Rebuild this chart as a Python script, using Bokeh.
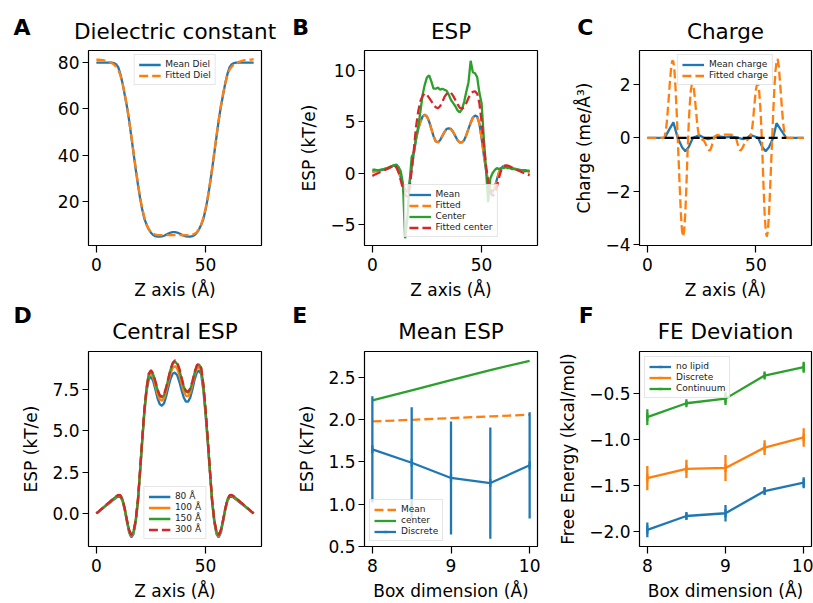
from bokeh.plotting import figure
from bokeh.models import Range1d, FixedTicker, Legend, LegendItem
from bokeh.layouts import row, column
from bokeh.embed import file_html
from bokeh.resources import INLINE
from bokeh.core.properties import value

# ---------------- data ----------------
z_axis = list(range(73))

diel_mean = [80, 80, 80, 80, 80, 80, 80, 80, 79.8, 79.3,
             78.0, 75.0, 71.0, 66.0, 61.0, 55.0, 48.0, 41.0, 34.0, 27.5,
             21.5, 16.5, 12.5, 10.0, 8.0, 6.5, 5.5, 5.0, 4.8, 4.8,
             4.9, 5.2, 5.7, 6.2, 6.6, 6.8, 6.8, 6.6, 6.2, 5.7,
             5.2, 4.9, 4.8, 4.8, 5.0, 5.5, 6.5, 8.0, 10.0, 12.5,
             16.5, 21.5, 27.5, 34.0, 41.0, 48.0, 55.0, 61.0, 66.0, 71.0,
             75.0, 78.0, 79.3, 79.8, 80, 80, 80, 80, 80, 80,
             80, 80, 80]
diel_fit = [81.2, 81.2, 81.1, 81.0, 80.8, 80.5, 80.2, 79.8, 79.2, 78.3,
            77.0, 74.5, 71.0, 66.5, 61.0, 55.0, 48.5, 41.5, 34.5, 28.0,
            22.0, 17.0, 13.0, 10.0, 8.0, 6.8, 6.1, 5.7, 5.5, 5.5,
            5.5, 5.5, 5.5, 5.5, 5.5, 5.5, 5.5, 5.5, 5.5, 5.5,
            5.5, 5.5, 5.5, 5.5, 5.7, 6.1, 6.8, 8.0, 10.0, 13.0,
            17.0, 22.0, 28.0, 34.5, 41.5, 48.5, 55.0, 61.0, 66.5, 71.0,
            74.5, 77.0, 78.3, 79.2, 79.8, 80.2, 80.5, 80.8, 81.0, 81.1,
            81.2, 81.3, 81.5]

esp_mean = [0.2, 0.2, 0.2, 0.25, 0.3, 0.35, 0.4, 0.5, 0.6, 0.7,
            0.75, 0.6, 0.2, -0.4, -1.1, -1.6, -1.8, -1.0, 0.5, 2.0,
            3.3, 4.3, 5.0, 5.5, 5.7, 5.5, 5.0, 4.3, 3.6, 3.1,
            3.0, 3.2, 3.6, 4.0, 4.3, 4.35, 4.3, 4.0, 3.6, 3.2,
            3.0, 3.0, 3.2, 3.7, 4.3, 4.9, 5.4, 5.6, 5.5, 4.8,
            3.4, 1.8, 0.4, -0.9, -1.6, -1.8, -1.4, -0.6, 0.1, 0.5,
            0.7, 0.75, 0.7, 0.6, 0.5, 0.45, 0.4, 0.35, 0.3, 0.25,
            0.2, 0.2, 0.2]
esp_fit = [0.1, 0.15, 0.2, 0.25, 0.3, 0.35, 0.45, 0.5, 0.6, 0.7,
           0.75, 0.6, 0.15, -0.45, -1.1, -1.6, -1.75, -1.0, 0.5, 2.0,
           3.3, 4.3, 5.0, 5.5, 5.65, 5.5, 5.0, 4.3, 3.6, 3.1,
           3.0, 3.2, 3.6, 4.0, 4.25, 4.3, 4.25, 4.0, 3.6, 3.2,
           3.0, 3.0, 3.2, 3.7, 4.3, 4.9, 5.35, 5.55, 5.45, 4.8,
           3.4, 1.8, 0.4, -0.9, -1.6, -1.75, -1.4, -0.6, 0.1, 0.5,
           0.7, 0.75, 0.7, 0.6, 0.5, 0.45, 0.4, 0.3, 0.25, 0.2,
           0.15, 0.1, 0.05]
esp_center = [0.35, 0.35, 0.3, 0.3, 0.35, 0.4, 0.45, 0.5, 0.6, 0.7,
              0.8, 0.85, 0.6, 0.2, -1.0, -6.3, -4.5, -1.0, 1.6, 2.0,
              3.5, 4.5, 6.0, 7.6, 8.6, 9.3, 9.5, 8.9, 8.2, 8.2,
              8.3, 8.1, 8.2, 8.1, 8.0, 7.6, 7.1, 6.8, 6.5, 6.1,
              5.9, 6.2, 6.9, 7.9, 8.8, 10.9, 9.8, 9.7, 9.3, 7.8,
              6.8, 3.5, 0.5, -2.8, -0.5, 0.0, 0.3, 0.5, 0.4, 0.5,
              0.5, 0.6, 0.5, 0.5, 0.4, 0.4, 0.35, 0.3, 0.3, 0.3,
              0.3, 0.25, 0.25]
esp_center_fit = [-0.25, -0.15, -0.05, 0.05, 0.15, 0.25, 0.35, 0.45, 0.55, 0.65,
                  0.8, 0.6, 0.1, -0.7, -1.5, -2.1, -2.3, -1.5, 0.3, 2.3,
                  4.5, 6.0, 7.0, 7.5, 7.75, 7.6, 7.3, 7.0, 6.6, 6.4,
                  6.3, 6.5, 6.9, 7.4, 7.7, 7.85, 7.8, 7.5, 7.1, 6.7,
                  6.35, 6.25, 6.4, 6.8, 7.3, 7.7, 7.9, 7.95, 7.7, 6.8,
                  5.0, 2.8, 0.8, -0.8, -1.8, -2.2, -2.0, -1.3, -0.4, 0.3,
                  0.6, 0.75, 0.75, 0.65, 0.55, 0.45, 0.35, 0.25, 0.15, 0.05,
                  -0.05, -0.1, -0.2]

charge_fit_z = [0, 7.5, 8, 8.5, 9, 9.5, 10, 10.5, 11, 11.5,
                12, 12.5, 13, 13.5, 14, 14.5, 15, 15.5, 16, 16.5,
                17, 17.5, 18, 18.5, 19, 19.5, 20, 20.5, 21, 21.5,
                22, 22.5, 23, 23.5, 24, 24.5, 25, 26, 27, 27.5,
                28, 28.5, 29, 29.5, 30, 30.5, 31, 32, 34, 36,
                38, 40, 40.5, 41, 41.5, 42, 42.5, 43, 43.5, 44,
                44.5, 45.5, 46.5, 47, 47.5, 48, 48.5, 49, 49.5, 50,
                50.5, 51, 51.5, 52, 52.5, 53, 53.5, 54, 54.5, 55,
                55.5, 56, 56.5, 57, 57.5, 58, 58.5, 59, 59.5, 60,
                60.5, 61, 61.5, 62, 62.5, 63, 63.5, 64, 72]
charge_fit = [0, 0, 0.05, 0.25, 0.6, 1.1, 1.65, 2.2, 2.65, 2.9,
              2.85, 2.5, 1.85, 1.0, 0.0, -1.0, -2.0, -2.9, -3.5, -3.7,
              -3.45, -2.8, -1.8, -0.6, 0.4, 1.2, 1.75, 2.0, 2.0, 1.8,
              1.4, 0.95, 0.5, 0.2, 0.05, 0.0, -0.05, -0.1, -0.25, -0.35,
              -0.42, -0.47, -0.45, -0.35, -0.2, -0.05, 0.05, 0.1, 0.12, 0.12,
              0.12, 0.1, 0.05, -0.05, -0.2, -0.35, -0.45, -0.47, -0.42, -0.35,
              -0.25, -0.1, -0.05, 0.0, 0.05, 0.2, 0.5, 0.95, 1.4, 1.8,
              2.0, 2.0, 1.75, 1.2, 0.4, -0.6, -1.8, -2.8, -3.45, -3.7,
              -3.5, -2.9, -2.0, -1.0, 0.0, 1.0, 1.85, 2.5, 2.85, 2.95,
              2.7, 2.2, 1.65, 1.1, 0.6, 0.25, 0.05, 0.0, 0.0]
charge_mean_z = [0, 8, 10, 12, 14, 16, 17.5, 19, 21, 22.5,
                 24, 26, 28, 30, 33, 36, 39, 42, 44, 46,
                 47.5, 49.5, 51, 53, 54.5, 56, 58, 59.5, 61.5, 64, 72]
charge_mean = [0, 0, 0.3, 0.58, 0.0, -0.35, -0.5, -0.35, 0.0, 0.05,
               0.1, 0.0, -0.05, 0.0, 0.05, 0.02, 0.05, 0.0, -0.05, 0.0,
               0.1, 0.05, 0.0, -0.35, -0.5, -0.35, 0.0, 0.55, 0.3, 0.0, 0.0]
zero_z = [8, 64]
zero_v = [0, 0]

esp_80 = [0, 0.1, 0.21, 0.31, 0.42, 0.52, 0.62, 0.73, 0.83, 0.94,
          1.02, 1.0, 0.75, 0.2, -0.5, -1.15, -1.45, -1.25, -0.55, 0.65,
          2.45, 4.35, 6.1, 7.4, 8.1, 8.25, 8.0, 7.5, 6.95, 6.6,
          6.5, 6.65, 7.1, 7.65, 8.15, 8.45, 8.5, 8.35, 7.95, 7.45,
          7.0, 6.75, 6.75, 7.0, 7.5, 8.1, 8.5, 8.65, 8.4, 7.4,
          5.95, 4.25, 2.45, 0.65, -0.55, -1.25, -1.45, -1.15, -0.5, 0.2,
          0.75, 1.0, 1.02, 0.94, 0.83, 0.73, 0.62, 0.52, 0.42, 0.31,
          0.21, 0.1, 0.0]
esp_100 = [0, 0.11, 0.22, 0.33, 0.44, 0.55, 0.65, 0.76, 0.87, 0.98,
           1.07, 1.05, 0.8, 0.25, -0.45, -1.07, -1.37, -1.17, -0.47, 0.72,
           2.52, 4.42, 6.2, 7.5, 8.28, 8.45, 8.22, 7.75, 7.22, 6.88,
           6.8, 6.95, 7.4, 7.95, 8.48, 8.8, 8.9, 8.75, 8.38, 7.85,
           7.37, 7.1, 7.08, 7.3, 7.78, 8.35, 8.75, 8.85, 8.6, 7.6,
           6.12, 4.37, 2.52, 0.72, -0.47, -1.17, -1.37, -1.07, -0.45, 0.25,
           0.8, 1.05, 1.07, 0.98, 0.87, 0.76, 0.65, 0.55, 0.44, 0.33,
           0.22, 0.11, 0.0]
esp_150 = [0, 0.11, 0.23, 0.34, 0.46, 0.57, 0.68, 0.8, 0.91, 1.02,
           1.1, 1.08, 0.83, 0.28, -0.42, -1.02, -1.32, -1.12, -0.42, 0.78,
           2.58, 4.48, 6.28, 7.58, 8.42, 8.6, 8.4, 7.95, 7.45, 7.1,
           7.0, 7.15, 7.6, 8.15, 8.7, 9.05, 9.18, 9.03, 8.68, 8.15,
           7.65, 7.35, 7.3, 7.5, 7.95, 8.5, 8.92, 9.0, 8.75, 7.75,
           6.25, 4.45, 2.58, 0.78, -0.42, -1.12, -1.32, -1.02, -0.42, 0.28,
           0.83, 1.08, 1.1, 1.02, 0.91, 0.8, 0.68, 0.57, 0.46, 0.34,
           0.23, 0.11, 0.0]
esp_300 = [0, 0.11, 0.23, 0.34, 0.46, 0.57, 0.68, 0.8, 0.91, 1.03,
           1.12, 1.1, 0.85, 0.3, -0.4, -1.0, -1.3, -1.1, -0.4, 0.8,
           2.6, 4.5, 6.3, 7.6, 8.45, 8.65, 8.45, 8.0, 7.5, 7.15,
           7.05, 7.2, 7.65, 8.2, 8.75, 9.1, 9.25, 9.1, 8.75, 8.2,
           7.7, 7.4, 7.35, 7.55, 8.0, 8.55, 8.95, 9.05, 8.8, 7.8,
           6.3, 4.5, 2.6, 0.8, -0.4, -1.1, -1.3, -1.0, -0.4, 0.3,
           0.85, 1.1, 1.12, 1.03, 0.91, 0.8, 0.68, 0.57, 0.46, 0.34,
           0.23, 0.11, 0.0]

box_dim = [8.0, 8.5, 9.0, 9.5, 10.0]
box_esp_mean = [1.98, 2.00, 2.02, 2.04, 2.06]
box_esp_center = [2.23, 2.35, 2.47, 2.59, 2.70]
box_esp_discrete = [1.65, 1.49, 1.31, 1.25, 1.46]
box_esp_discrete_err = [0.63, 0.66, 0.67, 0.66, 0.63]

fe_nolipid = [-1.98, -1.83, -1.80, -1.56, -1.47]
fe_nolipid_err = [0.08, 0.035, 0.09, 0.035, 0.06]
fe_discrete = [-1.42, -1.32, -1.31, -1.09, -0.98]
fe_discrete_err = [0.13, 0.10, 0.14, 0.08, 0.10]
fe_continuum = [-0.76, -0.61, -0.56, -0.31, -0.22]
fe_continuum_err = [0.085, 0.025, 0.07, 0.03, 0.06]

panel_letters = ["A", "B", "C", "D", "E", "F"]
panel_titles = ["Dielectric constant", "ESP", "Charge", "Central ESP", "Mean ESP", "FE Deviation"]

# ---------------- style ----------------
FONT = "DejaVu Sans"
BLUE, ORANGE, GREEN, RED = "#1f77b4", "#ff7f0e", "#2ca02c", "#d62728"
LW = 2.3
DASH = "9 4"
TOTAL_W = 813


def fmt(t, nd):
    s = f"{t:.{nd}f}"
    return s.replace("-", "\u2212")


def header_strip(h, letters, letter_x, letter_y, titles, title_x, title_y):
    """A figure whose frame fills the canvas (1 unit = 1 px, y downwards) holding
    the panel letters and titles of one row."""
    s = figure(width=TOTAL_W, height=h, x_range=Range1d(0, TOTAL_W), y_range=Range1d(h, 0),
               output_backend="svg", toolbar_location=None, min_border=0,
               x_axis_type=None, y_axis_type=None)
    s.grid.visible = False
    s.outline_line_color = None
    s.background_fill_color = "white"
    s.border_fill_color = "white"
    s.text(x=letter_x, y=[letter_y] * len(letters), text=letters,
           text_font=value(FONT), text_font_size=value("22px"), text_font_style="bold",
           text_color="black", text_align="left", text_baseline="alphabetic")
    s.text(x=title_x, y=[title_y] * len(titles), text=titles,
           text_font=value(FONT), text_font_size=value("21.5px"), text_font_style="normal",
           text_color="black", text_align="center", text_baseline="alphabetic")
    return s


def make_fig(w, h, bl, br, bt, bb, xr, yr, xticks, yticks, ynd, xlabel, ylabel):
    p = figure(width=w, height=h, x_range=Range1d(*xr), y_range=Range1d(*yr),
               output_backend="svg", toolbar_location=None,
               min_border_left=bl, min_border_right=br,
               min_border_top=bt, min_border_bottom=bb,
               x_axis_label=xlabel, y_axis_label=ylabel)
    p.grid.visible = False
    p.outline_line_color = "black"
    p.outline_line_width = 1.2
    p.background_fill_color = "white"
    p.border_fill_color = "white"
    for ax in (p.xaxis[0], p.yaxis[0]):
        ax.axis_line_color = None
        ax.major_tick_in = 0
        ax.major_tick_line_width = 1.2
        ax.major_tick_line_color = "black"
        ax.minor_tick_line_color = None
        ax.major_label_text_font = FONT
        ax.major_label_text_font_size = "17px"
        ax.major_label_text_color = "black"
        ax.axis_label_text_font = FONT
        ax.axis_label_text_font_size = "17px"
        ax.axis_label_text_font_style = "normal"
        ax.axis_label_text_color = "black"
    p.xaxis[0].major_tick_out = 7
    p.yaxis[0].major_tick_out = 6
    p.xaxis[0].major_label_standoff = 5
    p.yaxis[0].major_label_standoff = 3
    p.xaxis[0].ticker = FixedTicker(ticks=xticks)
    p.yaxis[0].ticker = FixedTicker(ticks=yticks)
    p.xaxis[0].major_label_overrides = {t: fmt(t, 0) for t in xticks}
    p.yaxis[0].major_label_overrides = {t: fmt(t, ynd) for t in yticks}
    p.xaxis[0].axis_label_standoff = 6
    p.yaxis[0].axis_label_standoff = 8
    return p


def add_legend(p, items, location, margin):
    leg = Legend(items=[LegendItem(label=l, renderers=r) for l, r in items],
                 location=location, margin=margin,
                 label_text_font=FONT, label_text_font_size="9px",
                 label_text_color="#222222",
                 glyph_width=22, glyph_height=9, label_height=9,
                 label_standoff=5, spacing=1, padding=4,
                 border_line_color="#cccccc", border_line_width=1,
                 background_fill_alpha=0.8)
    p.add_layout(leg)


# column geometry: (figure width, left border, right border) -> frames 173/173/172 px
COLS = [(280, 88, 19), (260, 84, 3), (273, 99, 2)]
frame_centers = []
acc = 0
for w, bl, br in COLS:
    frame_centers.append(acc + bl + (w - bl - br) / 2)
    acc += w

# header strips (text anchor positions in strip pixels)
head1 = header_strip(46, panel_letters[:3], [13, 291.7, 576.7], 27.2,
                     panel_titles[:3], frame_centers, 30.5)
head2 = header_strip(47, panel_letters[3:], [13, 291.7, 578.3], 12.5,
                     panel_titles[3:], frame_centers, 28.5)

# ---------------- A ----------------
(w, bl, br) = COLS[0]
pA = make_fig(w, 256, bl, br, 4, 54, (-3.6, 75.6), (1.0, 85.2), [0, 50], [20, 40, 60, 80], 0,
              "Z axis (\u00c5)", None)
rA1 = pA.line(z_axis, diel_mean, line_color=BLUE, line_width=LW)
rA2 = pA.line(z_axis, diel_fit, line_color=ORANGE, line_width=LW, line_dash=DASH)
add_legend(pA, [("Mean Diel", [rA1]), ("Fitted Diel", [rA2])], "top_center", 4)

# ---------------- B ----------------
(w, bl, br) = COLS[1]
pB = make_fig(w, 256, bl, br, 4, 54, (-3.6, 75.6), (-7.0, 11.9), [0, 50], [-5, 0, 5, 10], 0,
              "Z axis (\u00c5)", "ESP (kT/e)")
rB1 = pB.line(z_axis, esp_mean, line_color=BLUE, line_width=LW)
rB2 = pB.line(z_axis, esp_fit, line_color=ORANGE, line_width=LW, line_dash=DASH)
rB3 = pB.line(z_axis, esp_center, line_color=GREEN, line_width=LW)
rB4 = pB.line(z_axis, esp_center_fit, line_color=RED, line_width=LW, line_dash=DASH)
add_legend(pB, [("Mean", [rB1]), ("Fitted", [rB2]), ("Center", [rB3]), ("Fitted center", [rB4])],
           "bottom_center", 8)

# ---------------- C ----------------
(w, bl, br) = COLS[2]
pC = make_fig(w, 256, bl, br, 4, 54, (-3.6, 75.6), (-4.03, 3.27), [0, 50], [-4, -2, 0, 2], 0,
              "Z axis (\u00c5)", "Charge (me/\u00c5\u00b3)")
rC1 = pC.line(charge_mean_z, charge_mean, line_color=BLUE, line_width=LW)
rC2 = pC.line(charge_fit_z, charge_fit, line_color=ORANGE, line_width=LW, line_dash=DASH)
pC.line(zero_z, zero_v, line_color="black", line_width=LW, line_dash=DASH)
add_legend(pC, [("Mean charge", [rC1]), ("Fitted charge", [rC2])], "top_center", 4)

# ---------------- D ----------------
(w, bl, br) = COLS[0]
pD = make_fig(w, 254, bl, br, 2, 55, (-3.6, 75.6), (-2.0, 9.78), [0, 50], [0, 2.5, 5, 7.5], 1,
              "Z axis (\u00c5)", "ESP (kT/e)")
rD1 = pD.line(z_axis, esp_80, line_color=BLUE, line_width=LW)
rD2 = pD.line(z_axis, esp_100, line_color=ORANGE, line_width=LW)
rD3 = pD.line(z_axis, esp_150, line_color=GREEN, line_width=LW)
rD4 = pD.line(z_axis, esp_300, line_color=RED, line_width=LW, line_dash=DASH)
add_legend(pD, [("80 \u00c5", [rD1]), ("100 \u00c5", [rD2]), ("150 \u00c5", [rD3]), ("300 \u00c5", [rD4])],
           "bottom_center", 7)

# ---------------- E ----------------
(w, bl, br) = COLS[1]
pE = make_fig(w, 254, bl, br, 2, 55, (7.9, 10.1), (0.497, 2.81), [8, 9, 10], [0.5, 1.0, 1.5, 2.0, 2.5], 1,
              "Box dimension (\u00c5)", "ESP (kT/e)")
rE1 = pE.line(box_dim, box_esp_mean, line_color=ORANGE, line_width=LW, line_dash=DASH)
rE2 = pE.line(box_dim, box_esp_center, line_color=GREEN, line_width=LW)
rE3 = pE.line(box_dim, box_esp_discrete, line_color=BLUE, line_width=LW)
pE.segment(x0=box_dim, x1=box_dim,
           y0=[v - e for v, e in zip(box_esp_discrete, box_esp_discrete_err)],
           y1=[v + e for v, e in zip(box_esp_discrete, box_esp_discrete_err)],
           line_color=BLUE, line_width=LW)
rE4 = pE.scatter(box_dim, box_esp_discrete, marker="dash", angle=1.5708, size=8,
                 line_color=BLUE, line_width=LW)
add_legend(pE, [("Mean", [rE1]), ("center", [rE2]), ("Discrete", [rE3, rE4])], "bottom_left", 5)

# ---------------- F ----------------
(w, bl, br) = COLS[2]
pF = make_fig(w, 254, bl, br, 2, 55, (7.9, 10.1), (-2.16, -0.05), [8, 9, 10], [-2.0, -1.5, -1.0, -0.5], 1,
              "Box dimension (\u00c5)", "Free Energy (kcal/mol)")
f_items = []
for name, vals, errs, col in [("no lipid", fe_nolipid, fe_nolipid_err, BLUE),
                              ("Discrete", fe_discrete, fe_discrete_err, ORANGE),
                              ("Continuum", fe_continuum, fe_continuum_err, GREEN)]:
    rl = pF.line(box_dim, vals, line_color=col, line_width=LW)
    pF.segment(x0=box_dim, x1=box_dim,
               y0=[v - e for v, e in zip(vals, errs)],
               y1=[v + e for v, e in zip(vals, errs)],
               line_color=col, line_width=LW)
    rm = pF.scatter(box_dim, vals, marker="dash", angle=1.5708, size=8,
                    line_color=col, line_width=LW)
    f_items.append((name, [rl, rm]))
add_legend(pF, f_items, "top_left", 5)

layout = column(head1,
                row(pA, pB, pC, spacing=0),
                head2,
                row(pD, pE, pF, spacing=0),
                spacing=0)
open("out.html", "w").write(file_html(layout, INLINE))
